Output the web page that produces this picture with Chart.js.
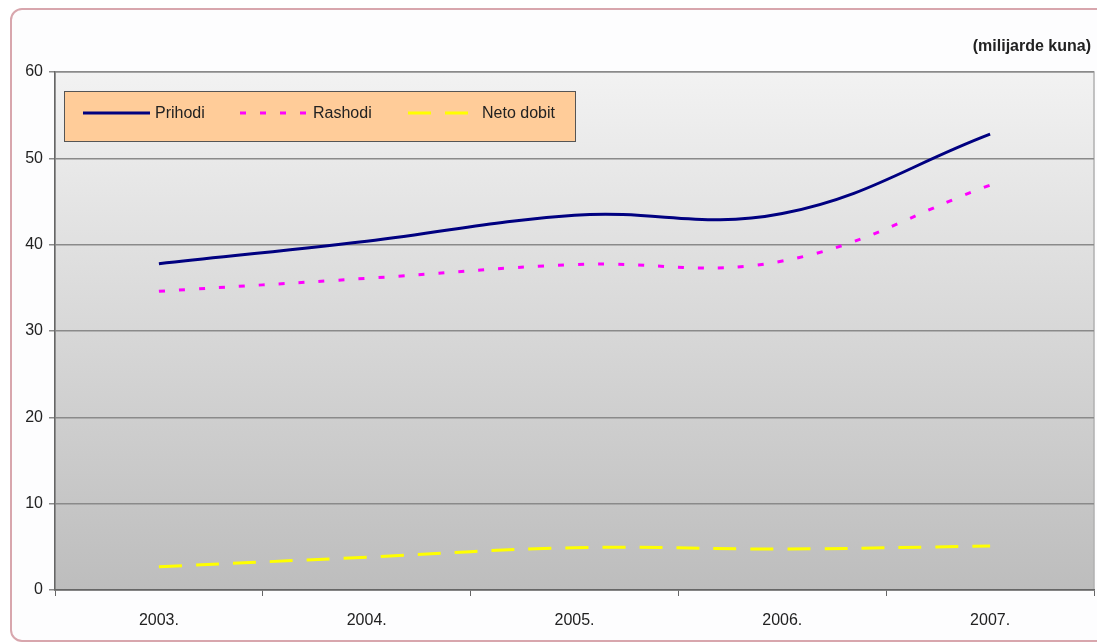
<!DOCTYPE html>
<html>
<head>
<meta charset="utf-8">
<script src="https://cdn.jsdelivr.net/npm/chart.js@4/dist/chart.umd.min.js"></script>
<style>
  html, body { margin: 0; padding: 0; background: #fff; }
  #frame {
    position: absolute; left: 10px; top: 8px; width: 1110px; height: 630px;
    border: 2px solid #d8a6ad; border-radius: 12px; background: #fdfdfe;
  }
  #wrap { position: absolute; left: 0; top: 0; width: 1097px; height: 644px; }
</style>
</head>
<body>
<div id="frame"></div>
<div id="wrap"><canvas id="chart"></canvas></div>
<script>
"use strict";
var years = ['2003.', '2004.', '2005.', '2006.', '2007.'];
var prihodi = [37.8, 40.4, 43.4, 43.6, 52.8];
var rashodi = [34.6, 36.1, 37.7, 38.1, 46.9];
var netoDobit = [2.7, 3.8, 4.9, 4.75, 5.1];
var seriesNames = ['Prihodi', 'Rashodi', 'Neto dobit'];
var unitLabel = '(milijarde kuna)';

var fontFamily = '"Liberation Sans", Arial, sans-serif';

// plot background, frame, unit label and legend box
var decor = {
  id: 'decor',
  beforeDraw: function (chart) {
    var a = chart.chartArea, ctx = chart.ctx;
    var g = ctx.createLinearGradient(0, a.top, 0, a.bottom);
    g.addColorStop(0, '#f2f2f2');
    g.addColorStop(1, '#bdbdbd');
    ctx.save();
    ctx.fillStyle = g;
    ctx.fillRect(a.left, a.top, a.right - a.left, a.bottom - a.top);
    ctx.strokeStyle = '#b0b0b0';
    ctx.lineWidth = 1.5;
    ctx.strokeRect(a.left, a.top, a.right - a.left, a.bottom - a.top);
    ctx.restore();
  },
  afterDraw: function (chart) {
    var a = chart.chartArea, ctx = chart.ctx;
    ctx.save();
    ctx.font = 'bold 16px ' + fontFamily;
    ctx.fillStyle = '#222';
    ctx.textAlign = 'right';
    ctx.textBaseline = 'middle';
    ctx.fillText(unitLabel, a.right - 3, a.top - 25);

    // legend box
    var bx = a.left + 9, by = a.top + 19, bw = 511, bh = 50;
    ctx.fillStyle = '#ffcc99';
    ctx.fillRect(bx, by, bw, bh);
    ctx.strokeStyle = '#555';
    ctx.lineWidth = 1;
    ctx.strokeRect(bx + 0.5, by + 0.5, bw, bh);
    var cy = by + 22;
    var items = [[bx + 19, bx + 86, bx + 91], [bx + 176, bx + 243, bx + 249], [bx + 344, bx + 404, bx + 418]];
    ctx.font = '16px ' + fontFamily;
    ctx.textAlign = 'left';
    chart.data.datasets.forEach(function (ds, i) {
      var it = items[i];
      ctx.beginPath();
      ctx.setLineDash(ds.borderDash || []);
      ctx.strokeStyle = ds.borderColor;
      ctx.lineWidth = ds.borderWidth;
      ctx.moveTo(it[0], cy);
      ctx.lineTo(it[1], cy);
      ctx.stroke();
      ctx.setLineDash([]);
      ctx.fillStyle = '#222';
      ctx.fillText(ds.label, it[2], cy + 1);
    });
    ctx.restore();
  }
};

new Chart(document.getElementById('chart').getContext('2d'), {
  type: 'line',
  data: {
    labels: years,
    datasets: [
      { label: seriesNames[0], data: prihodi, borderColor: '#000080', borderWidth: 3, tension: 0.4, pointRadius: 0 },
      { label: seriesNames[1], data: rashodi, borderColor: '#ff00ff', borderWidth: 3, borderDash: [6, 14], tension: 0.4, pointRadius: 0 },
      { label: seriesNames[2], data: netoDobit, borderColor: '#ffff00', borderWidth: 3, borderDash: [23, 14], tension: 0.4, pointRadius: 0 }
    ]
  },
  options: {
    responsive: true,
    maintainAspectRatio: false,
    animation: false,
    layout: { padding: { left: 8, top: 72, right: 3, bottom: 0 } },
    plugins: {
      legend: { display: false },
      tooltip: { enabled: false }
    },
    scales: {
      x: {
        offset: true,
        grid: { offset: true, drawOnChartArea: false, drawTicks: true, tickLength: 6, color: '#666' },
        border: { color: '#666', width: 1.5 },
        ticks: { color: '#222', font: { family: fontFamily, size: 16 }, padding: 15 },
        afterFit: function (s) { s.height = 54; }
      },
      y: {
        min: 0, max: 60,
        ticks: { stepSize: 10, color: '#222', font: { family: fontFamily, size: 16 }, padding: 6 },
        grid: { color: '#8a8a8a', lineWidth: 1.5, tickLength: 6 },
        border: { color: '#666', width: 1.5 },
        afterFit: function (s) { s.width = 47; }
      }
    }
  },
  plugins: [decor]
});
</script>
</body>
</html>
